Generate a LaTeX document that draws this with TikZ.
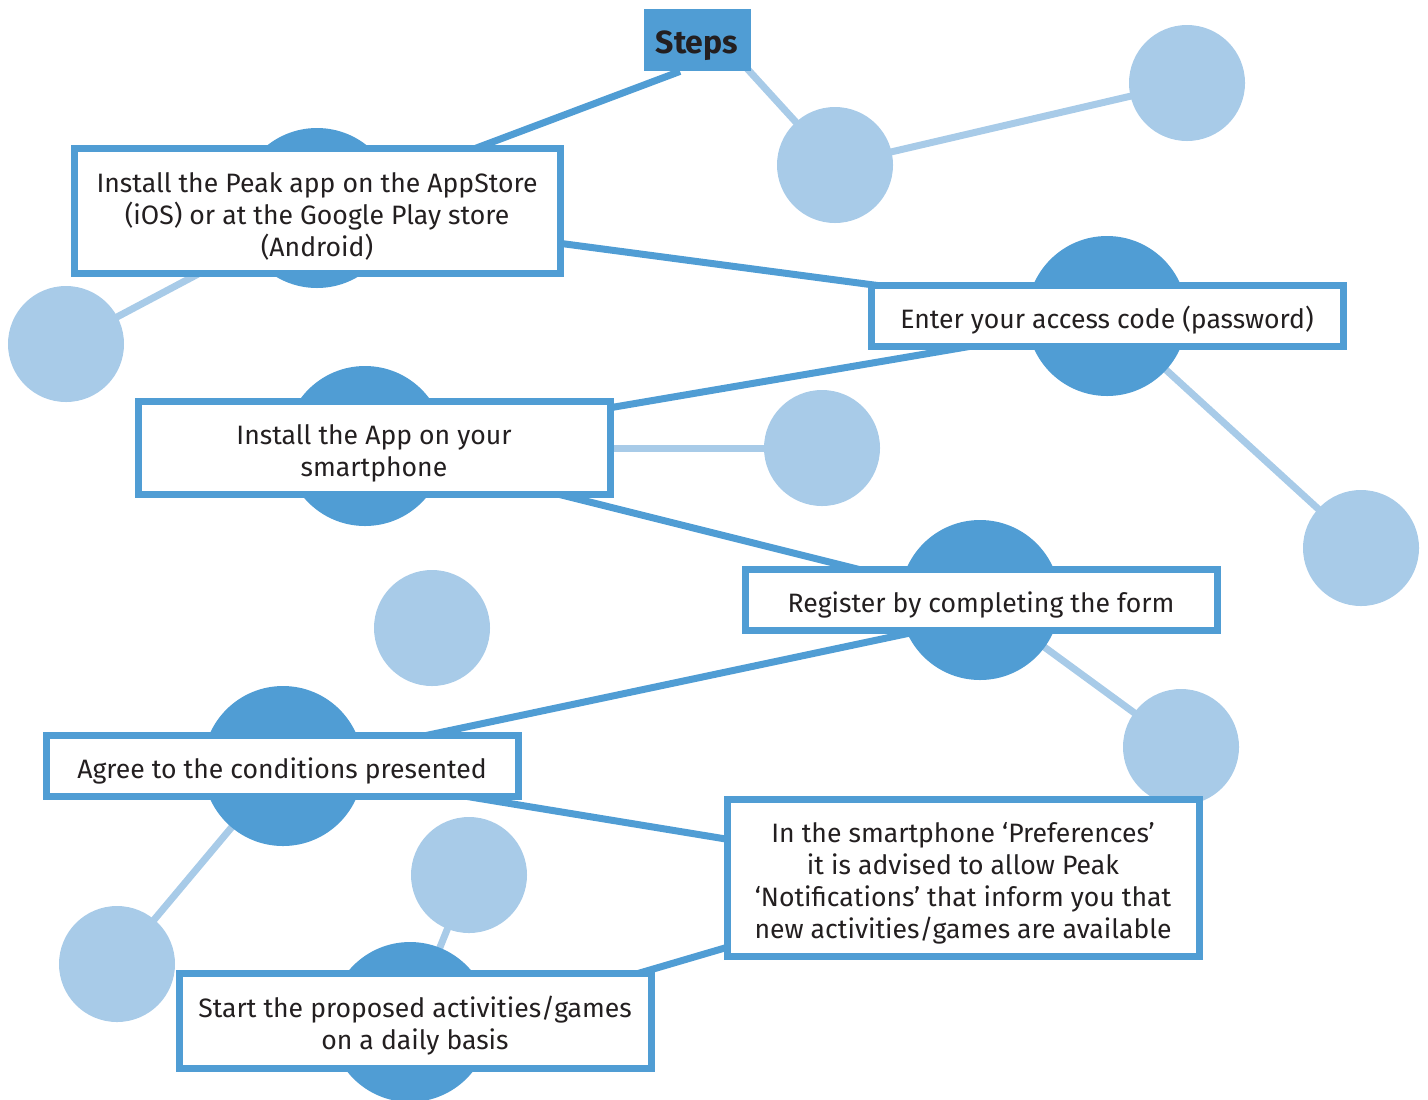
\documentclass[tikz,border=0pt]{standalone}
\usepackage{fontspec}
\setmainfont{Fira Sans}
\usetikzlibrary{positioning,backgrounds}
\definecolor{stepblue}{HTML}{509DD4}
\definecolor{leafblue}{HTML}{A8CBE8}
\definecolor{inkgrey}{HTML}{231F20}
\newcommand\boxstrut[1]{\rule{0pt}{#1}}
\tikzset{stepbox/.style={draw=stepblue, line width=3.5pt, fill=white, inner sep=0pt, minimum width=236pt, align=center, text=inkgrey, font=\fontsize{13.3}{16}\selectfont}}
\tikzset{hub/.style={circle, fill=stepblue, minimum size=80pt, inner sep=0pt}}
\tikzset{leaf/.style={circle, fill=leafblue, minimum size=58pt, inner sep=0pt}}
\tikzset{darklink/.style={draw=stepblue, line width=3.5pt}}
\tikzset{lightlink/.style={draw=leafblue, line width=3.5pt}}

\begin{document}
\begin{tikzpicture}[x=0.5pt, y=-0.5pt]
    \useasboundingbox (0,0) rectangle (1428,1099);
    \node[fill=stepblue, minimum width=53.5pt, minimum height=31pt, inner sep=0pt, text=inkgrey, font=\fontsize{16}{18}\selectfont\bfseries] (steps) at (697,40) {\boxstrut{17pt}Steps};

    \node[hub] (hubpeak) at (317,208) {};
    \node[hub] (hubcode) at (1107,316) {};
    \node[hub] (hubapp) at (365,446) {};
    \node[hub] (hubreg) at (980,600) {};
    \node[hub] (hubagree) at (283,766) {};
    \node[hub] (hubstart) at (410,1022) {};

    \node[leaf] (leafa) at (835,165) {};
    \node[leaf] (leafb) at (1187,83) {};
    \node[leaf] (leafc) at (66,344) {};
    \node[leaf] (leafd) at (822,448) {};
    \node[leaf] (leafe) at (1361,548) {};
    \node[leaf] (leaff) at (432,628) {};
    \node[leaf] (leafg) at (1181,747) {};
    \node[leaf] (leafh) at (117,964) {};
    \node[leaf] (leafi) at (469,875) {};

    \node[stepbox, minimum width=243pt, minimum height=62.5pt] (peak) at (317,211) {\boxstrut{15.5pt}Install the Peak app on the AppStore\\(iOS) or at the Google Play store\\(Android)};
    \node[stepbox, minimum height=30.5pt] (code) at (1107,316) {\boxstrut{15.5pt}Enter your access code (password)};
    \node[stepbox, minimum height=46.5pt] (app) at (374,448) {\boxstrut{15.5pt}Install the App on your\\smartphone};
    \node[stepbox, minimum height=30.5pt] (reg) at (981,600) {\boxstrut{15.5pt}Register by completing the form};
    \node[stepbox, minimum height=30.5pt] (agree) at (282,766) {\boxstrut{15.5pt}Agree to the conditions presented};
    \node[stepbox, minimum height=78.5pt] (notif) at (963,878) {\boxstrut{15.5pt}In the smartphone ‘Preferences’\\it is advised to allow Peak\\‘Notifications’ that inform you that\\new activities/games are available};
    \node[stepbox, minimum height=47.5pt] (start) at (415,1021) {\boxstrut{15.5pt}Start the proposed activities/games\\on a daily basis};

    \begin{scope}[on background layer]
    \draw[darklink] ([xshift=-8.5pt]steps.south) -- (hubpeak.center);
    \draw[darklink] (peak.center) -- (code.center);
    \draw[darklink] ([yshift=-3.5pt]code.center) -- (app.center);
    \draw[darklink] (app.center) -- (reg.center);
    \draw[darklink] ([yshift=-9pt]reg.center) -- (agree.center);
    \draw[darklink] (agree.center) -- (notif.center);
    \draw[darklink] (notif.center) -- ([yshift=-9pt]start.center);

    \draw[lightlink] ([xshift=12pt]steps.center) -- (leafa.center);
    \draw[lightlink] (leafa.center) -- (leafb.center);
    \draw[lightlink] (peak.center) -- (leafc.center);
    \draw[lightlink] (app.center) -- (leafd.center);
    \draw[lightlink] (hubcode.center) -- (leafe.center);
    \draw[lightlink] (hubreg.center) -- (leafg.center);
    \draw[lightlink] (hubagree.center) -- (leafh.center);
    \draw[lightlink] (hubstart.center) -- (leafi.center);
    \end{scope}
\end{tikzpicture}
\end{document}
